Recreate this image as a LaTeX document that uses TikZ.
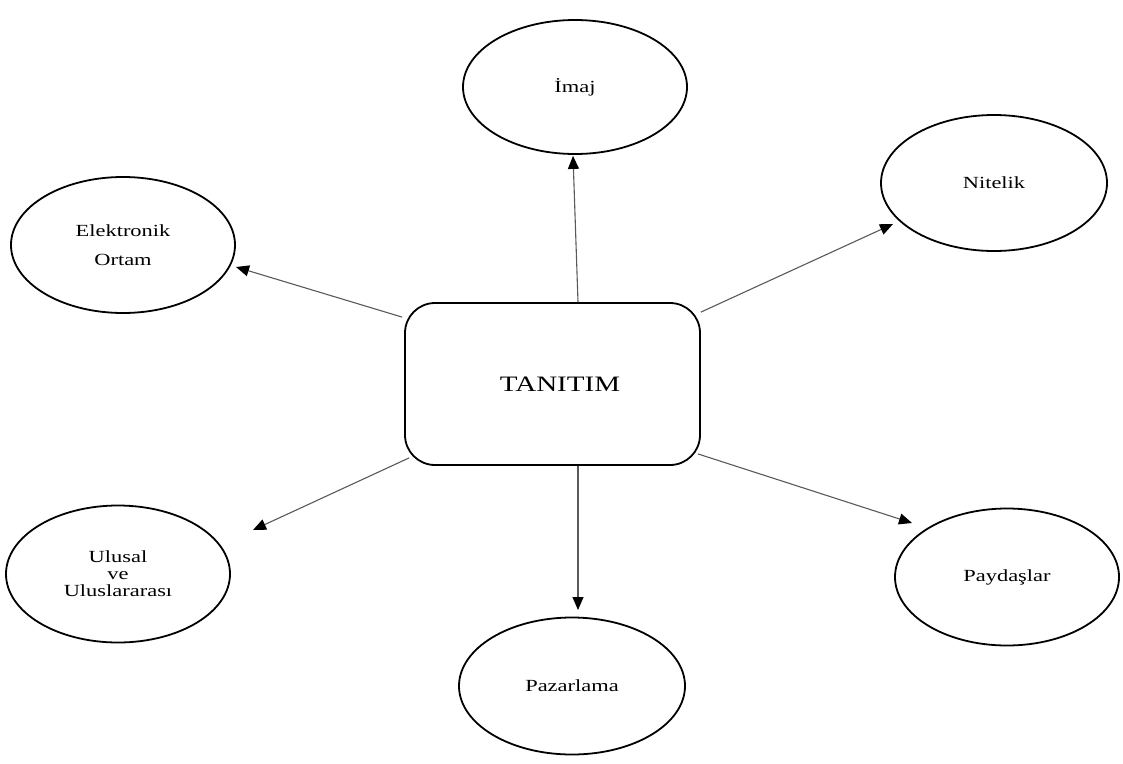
\documentclass[tikz,border=0pt]{standalone}
\usepackage{fontspec}
\setmainfont{Liberation Serif}[FakeStretch=1.32]
\usetikzlibrary{arrows.meta,shapes.geometric}
\tikzset{
  bubble/.style={draw=black, line width=1.8pt, ellipse, inner sep=0pt, align=center,
    font=\fontsize{17}{29}\selectfont},
  centerbox/.style={draw=black, line width=1.8pt, rectangle, rounded corners=30pt,
    minimum width=295pt, minimum height=162pt, inner sep=0pt,
    font=\fontsize{22}{26}\selectfont},
  arr/.style={draw=black!65, line width=1.1pt,
    -{Triangle[length=13pt,width=11pt,fill=black,color=black]}}
}
\begin{document}
\begin{tikzpicture}[x=1pt,y=-1pt]
\useasboundingbox (0,0) rectangle (1123,763);
\node[centerbox] (box) at (552.5,384) {\hspace*{15pt}TANITIM};
\node[bubble, minimum width=224pt, minimum height=134pt] (imaj) at (575,87) {İmaj};
\node[bubble, minimum width=226pt, minimum height=136pt] (nit) at (994,183) {Nitelik};
\node[bubble, minimum width=224pt, minimum height=136pt] (elek) at (123,245) {Elektronik\\Ortam};
\node[bubble, minimum width=224pt, minimum height=137pt, font=\fontsize{17}{17}\selectfont] (ulu) at (118,574) {Ulusal\\ve\\Uluslararası};
\node[bubble, minimum width=224pt, minimum height=137pt] (pay) at (1007,577) {Paydaşlar};
\node[bubble, minimum width=226pt, minimum height=137pt] (paz) at (572,686) {Pazarlama};
\draw[arr] ([shift={(25.5,0)}]box.north) -- ([shift={(-2,1)}]imaj.south);
\draw[arr] ([shift={(0,10)}]box.north east) -- ([shift={(-101,41)}]nit.center);
\draw[arr] ([shift={(-2,15)}]box.north west) -- ([shift={(113,22)}]elek.center);
\draw[arr] ([shift={(5,-8)}]box.south west) -- ([shift={(135,-44)}]ulu.center);
\draw[arr] ([shift={(25.5,0)}]box.south) -- ([shift={(6,-76)}]paz.center);
\draw[arr] ([shift={(-3,-12)}]box.south east) -- ([shift={(-95,-54)}]pay.center);
\end{tikzpicture}
\end{document}
